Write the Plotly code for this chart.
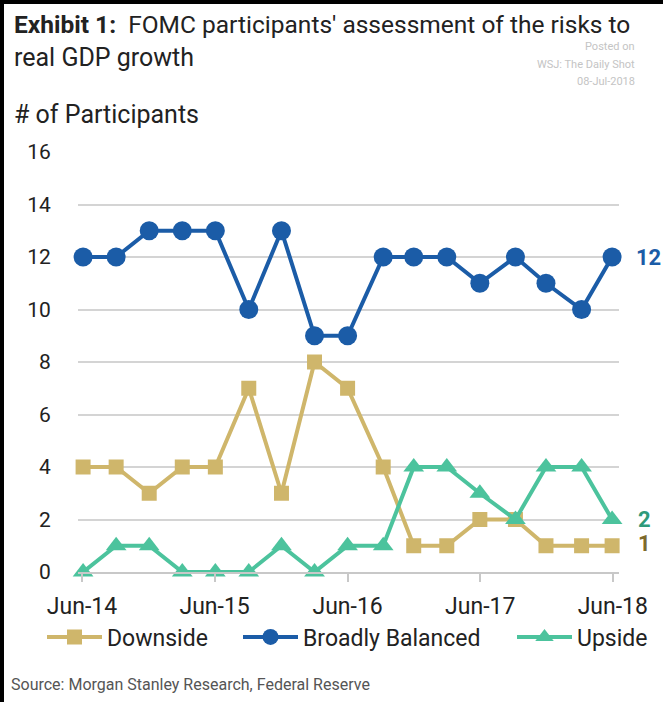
import plotly.graph_objects as go

# ---- data ----
meeting_dates = ["2014-06-18", "2014-09-17", "2014-12-17", "2015-03-18", "2015-06-17",
                 "2015-09-17", "2015-12-16", "2016-03-16", "2016-06-15", "2016-09-21",
                 "2016-12-14", "2017-03-15", "2017-06-14", "2017-09-20", "2017-12-13",
                 "2018-03-21", "2018-06-13"]
downside = [4, 4, 3, 4, 4, 7, 3, 8, 7, 4, 1, 1, 2, 2, 1, 1, 1]
broadly_balanced = [12, 12, 13, 13, 13, 10, 13, 9, 9, 12, 12, 12, 11, 12, 11, 10, 12]
upside = [0, 1, 1, 0, 0, 0, 1, 0, 1, 1, 4, 4, 3, 2, 4, 4, 2]
tick_dates = ["2014-06-15", "2015-06-15", "2016-06-15", "2017-06-15", "2018-06-15"]
tick_labels = ["Jun-14", "Jun-15", "Jun-16", "Jun-17", "Jun-18"]
y_ticks = [0, 2, 4, 6, 8, 10, 12, 14, 16]

# ---- style ----
W, H = 665, 702
L, R, T, B = 78, 46, 152, 130
PW, PH = W - L - R, H - T - B
FONT = "Roboto, 'Open Sans', sans-serif"
C_DOWN = "#cfb66b"
C_BAL = "#1b5ca7"
C_UP = "#4cc39d"


def px_x(x):
    return (x - L) / PW


def px_y(y):
    return (H - B - y) / PH


fig = go.Figure()
fig.add_trace(go.Scatter(x=meeting_dates, y=downside, name="Downside", mode="lines+markers",
                         line=dict(color=C_DOWN, width=4),
                         marker=dict(symbol="square", size=15, color=C_DOWN),
                         cliponaxis=False, legend="legend"))
fig.add_trace(go.Scatter(x=meeting_dates, y=broadly_balanced, name="Broadly Balanced",
                         mode="lines+markers", line=dict(color=C_BAL, width=4),
                         marker=dict(symbol="circle", size=19, color=C_BAL),
                         cliponaxis=False, legend="legend2"))
fig.add_trace(go.Scatter(x=meeting_dates, y=upside, name="Upside", mode="lines+markers",
                         line=dict(color=C_UP, width=4),
                         marker=dict(symbol="triangle-up", size=18, color=C_UP),
                         cliponaxis=False, legend="legend3"))

legend_common = dict(orientation="h", yanchor="middle", xanchor="left",
                     font=dict(family=FONT, size=23, color="#222222"),
                     bgcolor="rgba(0,0,0,0)", itemwidth=55)
ly = px_y(637)

annotations = [
    dict(x=px_x(12), y=px_y(24), xref="paper", yref="paper", xanchor="left", yanchor="middle",
         text="<b>Exhibit 1:</b>  FOMC participants' assessment of the risks to",
         showarrow=False, font=dict(family=FONT, size=24.5, color="#222222")),
    dict(x=px_x(12), y=px_y(58), xref="paper", yref="paper", xanchor="left", yanchor="middle",
         text="real GDP growth", showarrow=False,
         font=dict(family=FONT, size=25, color="#222222")),
    dict(x=px_x(637), y=px_y(46), xref="paper", yref="paper", xanchor="right", yanchor="middle",
         text="Posted on", showarrow=False, font=dict(family=FONT, size=11, color="#c4c4c4")),
    dict(x=px_x(637), y=px_y(64), xref="paper", yref="paper", xanchor="right", yanchor="middle",
         text="WSJ: The Daily Shot", showarrow=False, font=dict(family=FONT, size=11, color="#c4c4c4")),
    dict(x=px_x(637), y=px_y(82), xref="paper", yref="paper", xanchor="right", yanchor="middle",
         text="08-Jul-2018", showarrow=False, font=dict(family=FONT, size=11, color="#c4c4c4")),
    dict(x=px_x(12), y=px_y(114), xref="paper", yref="paper", xanchor="left", yanchor="middle",
         text="# of Participants", showarrow=False, font=dict(family=FONT, size=25, color="#222222")),
    dict(x=px_x(9), y=px_y(684), xref="paper", yref="paper", xanchor="left", yanchor="middle",
         text="Source: Morgan Stanley Research, Federal Reserve", showarrow=False,
         font=dict(family=FONT, size=16, color="#555555")),
    dict(x=meeting_dates[-1], y=broadly_balanced[-1], xref="x", yref="y", xanchor="left",
         yanchor="middle", xshift=22, text="<b>%d</b>" % broadly_balanced[-1], showarrow=False,
         font=dict(family=FONT, size=22, color=C_BAL)),
    dict(x=meeting_dates[-1], y=upside[-1], xref="x", yref="y", xanchor="left",
         yanchor="middle", xshift=24, text="<b>%d</b>" % upside[-1], showarrow=False,
         font=dict(family=FONT, size=22, color="#2f9a7a")),
    dict(x=meeting_dates[-1], y=downside[-1], xref="x", yref="y", xanchor="left",
         yanchor="middle", xshift=24, yshift=2, text="<b>%d</b>" % downside[-1], showarrow=False,
         font=dict(family=FONT, size=22, color="#7d6a2c")),
]

shapes = [
    dict(type="line", xref="paper", yref="paper", x0=px_x(2), x1=px_x(2),
         y0=px_y(0), y1=px_y(H), line=dict(color="black", width=4)),
    dict(type="line", xref="paper", yref="paper", x0=px_x(0), x1=px_x(663),
         y0=px_y(2), y1=px_y(2), line=dict(color="black", width=4)),
]

fig.update_layout(
    width=W, height=H,
    margin=dict(l=L, r=R, t=T, b=B),
    paper_bgcolor="white", plot_bgcolor="white",
    font=dict(family=FONT, color="#222222"),
    showlegend=True,
    legend=dict(legend_common, x=px_x(42), y=ly),
    legend2=dict(legend_common, x=px_x(238), y=ly),
    legend3=dict(legend_common, x=px_x(512), y=ly),
    xaxis=dict(type="date", range=["2014-06-04", "2018-07-02"],
               tickvals=tick_dates, ticktext=tick_labels,
               showgrid=False, showline=True, linecolor="#c8c8c8", linewidth=2,
               ticks="outside", ticklen=8, tickwidth=1.5, tickcolor="#c8c8c8",
               ticklabelstandoff=4,
               tickfont=dict(family=FONT, size=23, color="#222222"), zeroline=False),
    yaxis=dict(range=[0, 16], tickvals=y_ticks, showgrid=True, gridcolor="#d4d4d4", gridwidth=2,
               zeroline=False, showline=False, ticks="outside", ticklen=22,
               tickcolor="rgba(0,0,0,0)",
               tickfont=dict(family=FONT, size=21, color="#222222")),
    annotations=annotations,
    shapes=shapes,
)

fig.write_html("out.html")
